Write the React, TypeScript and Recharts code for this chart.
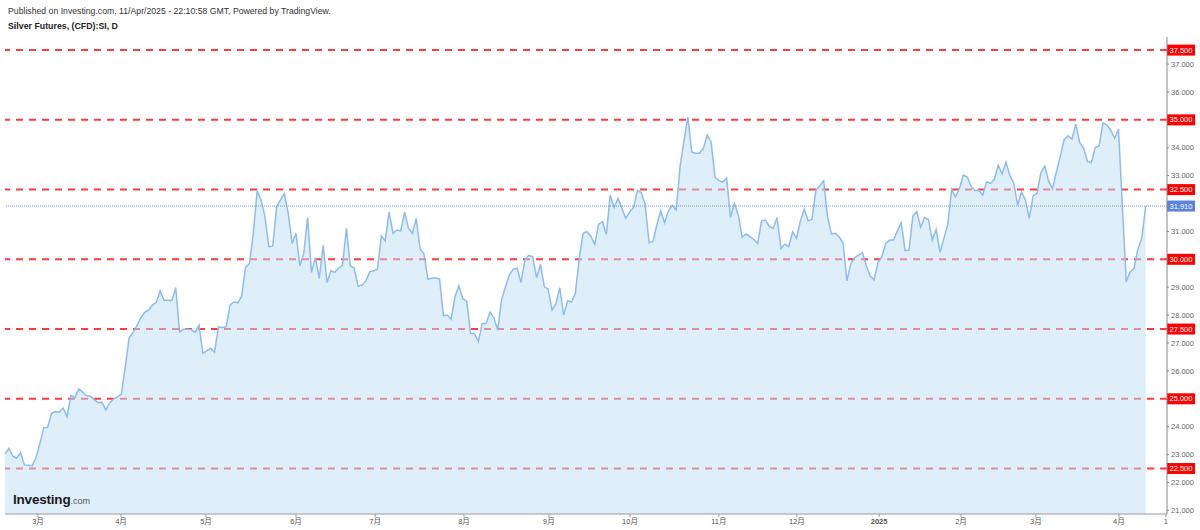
import React from 'react';
import { ComposedChart, Area, XAxis, YAxis, ReferenceLine } from 'recharts';

// Daily closes of Silver Futures (CFD):SI, mid-Feb 2024 .. 11 Apr 2025
const silverClose: number[] = [
  23.02, 23.22, 22.95, 22.87, 23.07, 22.63, 22.62, 22.60, 22.89, 23.40,
  23.96, 23.98, 24.48, 24.54, 24.52, 24.67, 24.36, 25.12, 25.04, 25.35,
  25.24, 25.12, 25.09, 24.97, 24.86, 24.88, 24.60, 24.86, 25.00, 25.07,
  25.17, 26.15, 27.19, 27.38, 27.62, 27.90, 28.10, 28.18, 28.36, 28.46,
  28.87, 28.53, 28.53, 28.52, 28.99, 27.40, 27.49, 27.49, 27.48, 27.38,
  27.64, 26.63, 26.72, 26.81, 26.67, 27.58, 27.56, 27.58, 28.36, 28.48,
  28.44, 28.68, 29.71, 29.85, 30.93, 32.46, 32.12, 31.53, 30.45, 30.47,
  31.88, 32.12, 32.36, 31.65, 30.57, 30.93, 29.77, 30.21, 31.50, 29.53,
  30.06, 29.32, 30.50, 29.17, 29.59, 29.53, 29.68, 29.79, 31.11, 29.77,
  29.68, 29.04, 29.08, 29.22, 29.55, 29.59, 29.65, 30.84, 30.66, 31.70,
  30.93, 31.05, 31.02, 31.69, 31.11, 30.93, 31.47, 30.37, 30.19, 29.29,
  29.32, 29.34, 29.29, 27.98, 28.00, 27.85, 28.68, 29.05, 28.59, 28.50,
  27.35, 27.33, 27.05, 27.70, 27.70, 28.11, 27.91, 27.46, 28.56, 29.02,
  29.44, 29.65, 29.68, 29.17, 29.97, 30.14, 30.10, 29.34, 29.82, 29.02,
  28.93, 28.18, 28.40, 28.98, 28.00, 28.51, 28.47, 28.78, 30.03, 30.93,
  30.99, 30.83, 30.54, 31.26, 31.35, 30.89, 32.30, 31.86, 32.18, 31.83,
  31.47, 31.70, 31.86, 32.46, 32.39, 31.97, 30.59, 30.63, 31.23, 31.74,
  31.31, 31.73, 31.94, 31.77, 33.32, 34.25, 35.11, 33.85, 33.80, 33.80,
  33.98, 34.45, 34.21, 32.94, 32.82, 32.77, 32.92, 31.50, 32.01, 31.59,
  30.79, 30.91, 30.81, 30.71, 30.57, 31.38, 31.41, 31.17, 31.11, 31.50,
  30.39, 30.55, 30.45, 30.99, 30.75, 31.37, 31.79, 31.38, 31.44, 32.48,
  32.63, 32.82, 31.53, 30.91, 30.93, 30.81, 30.59, 29.23, 29.85, 30.06,
  30.15, 30.24, 29.77, 29.40, 29.26, 29.88, 30.09, 30.57, 30.69, 30.69,
  31.01, 31.31, 30.31, 30.33, 31.55, 31.71, 31.15, 31.49, 31.43, 30.69,
  31.07, 30.25, 30.75, 31.25, 32.51, 32.24, 32.54, 33.02, 32.96, 32.63,
  32.46, 32.48, 32.30, 32.78, 32.72, 32.87, 33.37, 33.06, 33.49, 33.00,
  32.74, 31.94, 32.42, 32.12, 31.47, 32.28, 32.36, 33.10, 33.34, 32.80,
  32.53, 33.14, 33.70, 34.30, 34.43, 34.31, 34.85, 34.18, 33.98, 33.50,
  33.47, 34.01, 34.07, 34.89, 34.81, 34.63, 34.34, 34.66, 31.90, 29.20,
  29.55, 29.68, 30.37, 30.75, 31.91,
];

// Month boundaries, in trading days from the first close
const monthTickDays: number[] = [8.5, 29.9, 51.8, 75.0, 95.4, 118.3, 140.2, 161.1, 184.0, 204.1, 225.3, 246.4, 265.7, 287.1, 299.2];
const monthTickLabels: string[] = ['3月', '4月', '5月', '6月', '7月', '8月', '9月', '10月', '11月', '12月', '2025', '2月', '3月', '4月', '1'];

const priceTicks: number[] = [21, 22, 23, 24, 26, 27, 28, 29, 31, 33, 34, 36, 37];
const levelLines: number[] = [37.5, 35, 32.5, 30, 27.5, 25, 22.5];
const lastPrice = 31.91;

const xDomain: [number, number] = [0, 299.5];
const yDomain: [number, number] = [20.87, 37.97];

const data = silverClose.map((v, i) => ({ t: i, v }));

const FONT = '"Liberation Sans", Arial, Helvetica, sans-serif';

function XTick(props: any) {
  const { x, y, payload } = props;
  const idx = monthTickDays.indexOf(payload.value);
  const label = idx >= 0 ? monthTickLabels[idx] : '';
  return (
    <text
      x={x}
      y={y + 5}
      textAnchor="middle"
      fontSize={7.5}
      fill="#555"
      fontWeight={label === '2025' ? 'bold' : 'normal'}
      fontFamily={'"Liberation Sans", "Noto Sans CJK SC", sans-serif'}
    >
      {label}
    </text>
  );
}

function Tag(props: any) {
  const { viewBox, text, bg } = props;
  if (!viewBox) return null;
  const x = viewBox.x + viewBox.width;
  const y = viewBox.y;
  return (
    <g>
      <rect x={x} y={y - 5.5} width={28} height={11} fill={bg} />
      <text x={x + 14} y={y} dy="0.35em" textAnchor="middle" fontSize={7.5} fill="#fff" fontFamily={FONT}>
        {text}
      </text>
    </g>
  );
}

export default function App() {
  const refLineExtra: any = { zIndex: 50 };
  return (
    <div style={{ position: 'absolute', left: 0, top: 0, width: 1200, height: 530, background: '#fff', overflow: 'hidden' }}>
      <ComposedChart width={1200} height={530} data={data} margin={{ top: 37, right: 0, bottom: 0, left: 5 }}>
        <XAxis
          dataKey="t"
          type="number"
          domain={xDomain}
          allowDataOverflow
          ticks={monthTickDays}
          interval={0}
          height={16}
          tickSize={3}
          tickMargin={2}
          axisLine={{ stroke: '#999' }}
          tickLine={{ stroke: '#999' }}
          tick={<XTick />}
        />
        <YAxis
          orientation="right"
          type="number"
          domain={yDomain}
          allowDataOverflow
          ticks={priceTicks}
          interval={0}
          width={33}
          tickSize={2}
          tickMargin={2}
          axisLine={{ stroke: '#888' }}
          tickLine={{ stroke: '#888' }}
          tick={{ fontSize: 7.5, fill: '#666', fontFamily: FONT }}
          tickFormatter={(v: number) => v.toFixed(3)}
        />
        {levelLines.map((lv) => (
          <ReferenceLine
            key={lv}
            y={lv}
            stroke="#ff3b3b"
            strokeWidth={2}
            strokeDasharray="7 6"
            ifOverflow="extendDomain"
            {...refLineExtra}
            label={<Tag text={lv.toFixed(3)} bg="#ff0000" />}
          />
        ))}
        <Area
          type="linear"
          dataKey="v"
          stroke="#8dbcf0"
          strokeWidth={1.5}
          fill="#bfe0f5"
          fillOpacity={0.5}
          dot={false}
          activeDot={false}
          isAnimationActive={false}
        />
        <ReferenceLine
          y={lastPrice}
          stroke="#6f96e8"
          strokeWidth={1}
          strokeDasharray="1 1"
          label={<Tag text={lastPrice.toFixed(3)} bg="#5a82e0" />}
        />
      </ComposedChart>
      <svg width={1200} height={530} style={{ position: 'absolute', left: 0, top: 0, pointerEvents: 'none' }}>
        <text x={8} y={14} fontSize={8.7} fill="#333" fontFamily={FONT}>
          Published on Investing.com, 11/Apr/2025 - 22:10:58 GMT, Powered by TradingView.
        </text>
        <text x={8} y={29} fontSize={8.8} fontWeight="bold" fill="#222" fontFamily={FONT}>
          Silver Futures, (CFD):SI, D
        </text>
        <text x={13} y={503.5} fontSize={13.5} fontWeight="bold" fill="#1b1b1b" fontFamily={FONT} letterSpacing={-0.2}>
          Investing
          <tspan fontSize={9} fontWeight="normal" fill="#555" letterSpacing={0}>.com</tspan>
        </text>
      </svg>
    </div>
  );
}
